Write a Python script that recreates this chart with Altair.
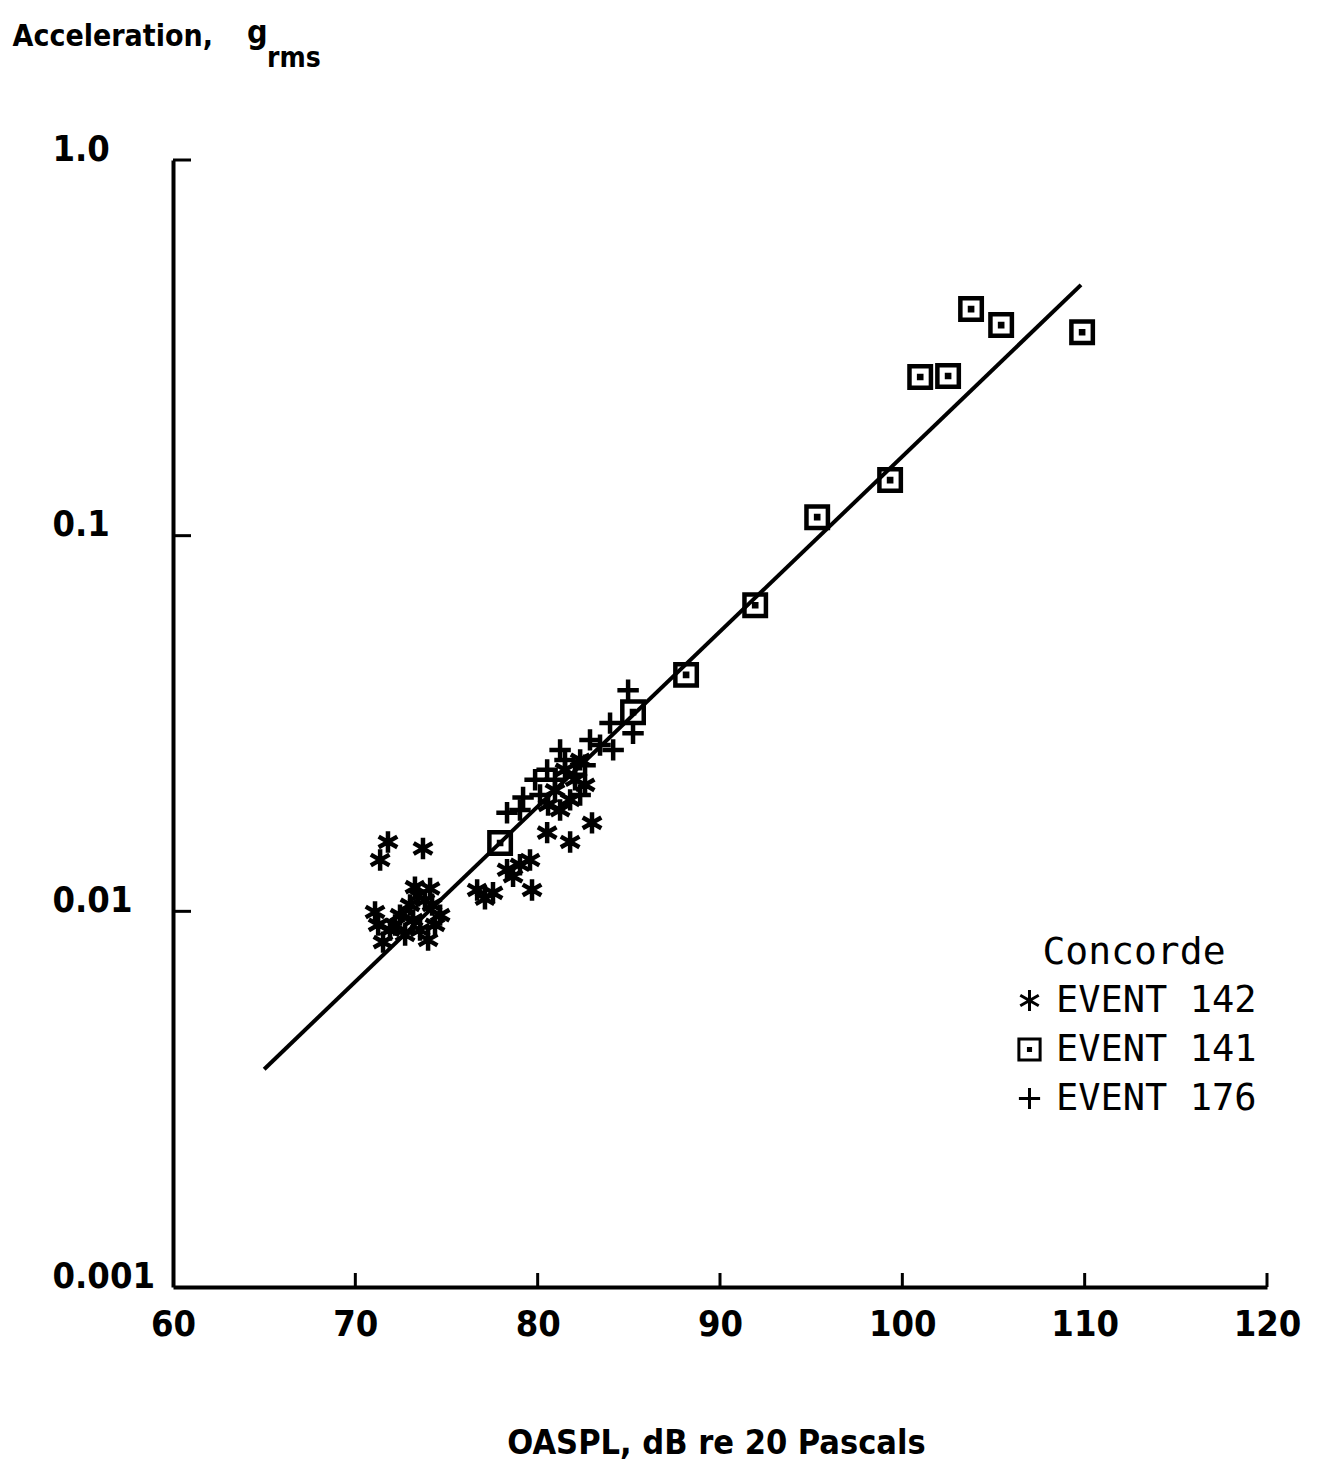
import altair as alt
import pandas as pd

# ---- data ----
# Concorde EVENT 142 (asterisks)
e142_x = [71.79, 71.36, 73.71, 71.08, 71.52, 72.18, 72.73, 73.17, 73.55, 73.82, 73.27,
          74.21, 74.37, 73.99, 73.00, 72.45, 71.90, 74.65, 73.44, 74.10, 71.25,
          76.68, 77.11, 77.55, 79.69, 78.32, 78.65, 79.03, 79.58, 80.52, 81.78, 82.98,
          80.95, 81.78, 82.05, 81.23, 82.33, 81.50, 80.57, 82.60]
e142_y = [0.0153, 0.0137, 0.0147, 0.00996, 0.00828, 0.0092, 0.00865, 0.00948, 0.00892, 0.0107, 0.0116,
          0.0104, 0.0092, 0.00839, 0.0104, 0.00977, 0.00892, 0.00977, 0.0110, 0.0115, 0.0092,
          0.0114, 0.0108, 0.0112, 0.0114, 0.0129, 0.0124, 0.0133, 0.0137, 0.0162, 0.0153, 0.0172,
          0.0210, 0.0198, 0.0224, 0.0186, 0.0253, 0.0238, 0.0192, 0.0217]
# Concorde EVENT 141 (squares)
e141_x = [77.94, 85.23, 88.14, 91.93, 95.33, 99.33, 100.98, 102.51, 103.77, 105.42, 109.86]
e141_y = [0.0152, 0.0339, 0.0426, 0.0653, 0.112, 0.1406, 0.2644, 0.266, 0.401, 0.3636, 0.348]
# Concorde EVENT 176 (plus)
e176_x = [84.96, 85.23, 84.14, 83.97, 82.87, 83.42, 82.60, 81.50, 81.23, 82.05, 80.95,
          80.52, 82.33, 80.13, 79.20, 79.03, 78.32, 79.86]
e176_y = [0.0388, 0.0298, 0.0269, 0.0317, 0.0286, 0.0277, 0.0245, 0.0253, 0.0269, 0.0231, 0.0224,
          0.0238, 0.0204, 0.0204, 0.0201, 0.0186, 0.0183, 0.0224]
# fitted line end points
fit_x = [65.0, 109.8]
fit_y = [0.0038, 0.465]

series_names = ["EVENT 142", "EVENT 141", "EVENT 176"]
x_ticks = [60, 70, 80, 90, 100, 110, 120]
x_inner_ticks = [70, 80, 90, 100, 110, 120]
y_ticks = [0.001, 0.01, 0.1, 1.0]
y_inner_ticks = [0.01, 0.1, 1.0]
y_tick_labels = ["0.001", "0.01", "0.1", "1.0"]

# ---- build tables ----
pts = pd.concat([
    pd.DataFrame({"x": e142_x, "y": e142_y, "event": series_names[0]}),
    pd.DataFrame({"x": e141_x, "y": e141_y, "event": series_names[1]}),
    pd.DataFrame({"x": e176_x, "y": e176_y, "event": series_names[2]}),
], ignore_index=True)
fit = pd.DataFrame({"x": fit_x, "y": fit_y})
xt = pd.DataFrame({"x": x_inner_ticks})
yt = pd.DataFrame({"y": y_inner_ticks})

W, H = 1094, 1127
FONT = "Liberation Sans Narrow, DejaVu Sans Condensed, Liberation Sans, sans-serif"
MONO = "DejaVu Sans Mono, Liberation Mono, monospace"

ASTER = "M0,-1L0,1M-0.87,-0.5L0.87,0.5M-0.87,0.5L0.87,-0.5"
SQUARE = "M-1,-1L1,-1L1,1L-1,1Z M-0.1,-0.1L0.1,-0.1L0.1,0.1L-0.1,0.1Z"
PLUS = "M-1,0L1,0M0,-1L0,1"

label_expr = ("datum.value < 0.005 ? '" + y_tick_labels[0] + "' : datum.value < 0.05 ? '"
              + y_tick_labels[1] + "' : datum.value < 0.5 ? '" + y_tick_labels[2]
              + "' : '" + y_tick_labels[3] + "'")

xscale = alt.Scale(domain=[60, 120], nice=False, zero=False)
yscale = alt.Scale(type="log", domain=[0.001, 1.0], nice=False)

xaxis = alt.Axis(values=x_ticks, ticks=False, tickSize=0, grid=False,
                 labelFont=FONT, labelFontSize=36, labelFontWeight="bold",
                 labelPadding=20, labelBaseline="top", labelFlush=False,
                 labelOverlap=False, labelColor="black",
                 domainColor="black", domainWidth=4,
                 title="OASPL, dB re 20 Pascals", titleFont=FONT, titleFontSize=34,
                 titleFontWeight="bold", titleColor="black",
                 titleX=543, titleY=166, titleBaseline="alphabetic", titleAnchor="middle")
yaxis = alt.Axis(values=y_ticks, ticks=False, tickSize=0, grid=False,
                 labelExpr=label_expr,
                 labelFont=FONT, labelFontSize=36, labelFontWeight="bold",
                 labelAlign="left", labelBaseline="alphabetic", labelPadding=121,
                 labelFlush=False, labelOverlap=False, labelColor="black",
                 domainColor="black", domainWidth=4,
                 title="Acceleration,", titleFont=FONT, titleFontSize=30,
                 titleFontWeight="bold", titleColor="black", titleAngle=0,
                 titleAlign="left", titleBaseline="alphabetic",
                 titleX=-161, titleY=-115)

base_points = alt.Chart(pts).mark_point(
    filled=False, size=460, strokeWidth=4.5, opacity=1, color="black"
).encode(
    x=alt.X("x:Q", scale=xscale, axis=xaxis),
    y=alt.Y("y:Q", scale=yscale, axis=yaxis),
    shape=alt.Shape("event:N",
                    scale=alt.Scale(domain=series_names, range=[ASTER, SQUARE, PLUS]),
                    sort=series_names,
                    legend=alt.Legend(
                        title="Concorde", orient="none", legendX=838, legendY=774,
                        titleFont=MONO, titleFontSize=38, titleFontWeight="normal",
                        titleColor="black", titleAnchor="middle", titlePadding=10,
                        titleLimit=400,
                        labelFont=MONO, labelFontSize=37, labelColor="black",
                        labelLimit=400,
                        labelOffset=8, rowPadding=11, symbolSize=450,
                        symbolStrokeWidth=3, symbolStrokeColor="black",
                        symbolFillColor="transparent")),
)

fit_line = alt.Chart(fit).mark_line(color="black", strokeWidth=4).encode(
    x=alt.X("x:Q", scale=xscale), y=alt.Y("y:Q", scale=yscale))

xtick_rules = alt.Chart(xt).mark_rule(color="black", strokeWidth=3).encode(
    x=alt.X("x:Q", scale=xscale), y=alt.value(H), y2=alt.value(H - 14))
ytick_rules = alt.Chart(yt).mark_rule(color="black", strokeWidth=3).encode(
    y=alt.Y("y:Q", scale=yscale), x=alt.value(0), x2=alt.value(18))

sub_g = alt.Chart(pd.DataFrame({"t": ["g"]})).mark_text(
    font=FONT, fontSize=32, fontWeight="bold", align="left", baseline="alphabetic",
    color="black").encode(text="t:N", x=alt.value(74), y=alt.value(-117))
sub_rms = alt.Chart(pd.DataFrame({"t": ["rms"]})).mark_text(
    font=FONT, fontSize=28, fontWeight="bold", align="left", baseline="alphabetic",
    color="black").encode(text="t:N", x=alt.value(94), y=alt.value(-93))

chart = alt.layer(
    xtick_rules, ytick_rules, fit_line, base_points, sub_g, sub_rms
).properties(
    width=W, height=H,
    autosize=alt.AutoSizeParams(type="none"),
    padding={"left": 173, "top": 160, "right": 51, "bottom": 179},
).configure(background="white").configure_view(stroke="transparent", strokeWidth=0)

chart.save("out.html", embed_options={"renderer": "svg", "actions": False})
